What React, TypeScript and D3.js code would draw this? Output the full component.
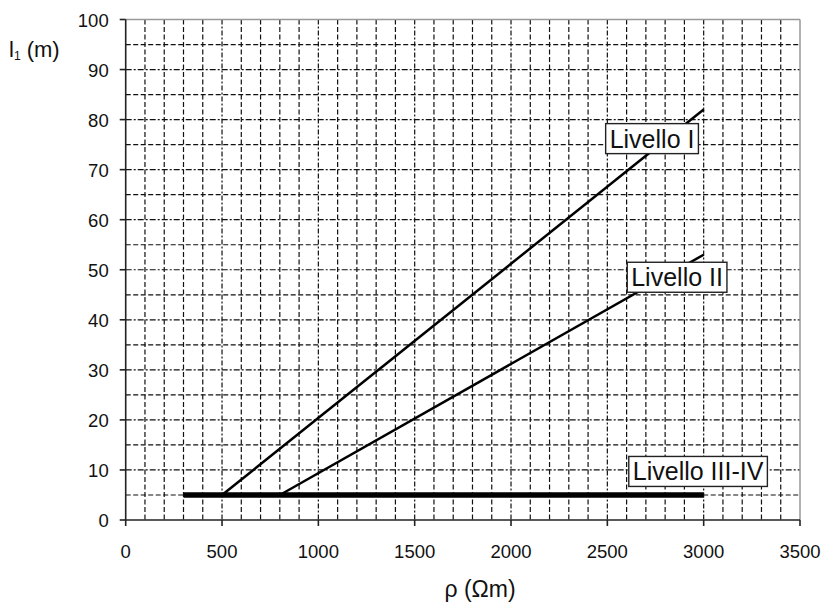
import React from "react";
import * as d3 from "d3";

const xTicks = [0, 500, 1000, 1500, 2000, 2500, 3000, 3500];
const yTicks = [0, 10, 20, 30, 40, 50, 60, 70, 80, 90, 100];
const seriesNames = ["Livello I", "Livello II", "Livello III-IV"];
const seriesRho = [
  [500, 3000],
  [800, 3000],
  [300, 3000],
];
const seriesL1 = [
  [5, 82],
  [5, 53],
  [5, 5],
];
const labelPos = [
  [2732, 76.2],
  [2862, 48.5],
  [2971, 9.7],
];

const W = 824;
const H = 606;
const M = { left: 125.7, right: 800, top: 19.5, bottom: 520 };
const font = "'Liberation Sans', Arial, sans-serif";

function measure(text: string, size: number): number {
  const c = document.createElement("canvas").getContext("2d");
  if (!c) return text.length * size * 0.5;
  c.font = `${size}px 'Liberation Sans', Arial, sans-serif`;
  return c.measureText(text).width;
}

export default function App() {
  const x = d3.scaleLinear().domain([0, 3500]).range([M.left, M.right]);
  const y = d3.scaleLinear().domain([0, 100]).range([M.bottom, M.top]);
  const line = d3
    .line<[number, number]>()
    .x((d) => x(d[0]))
    .y((d) => y(d[1]));
  const xGrid = d3.range(100, 3500, 100);
  const yGrid = d3.range(5, 100, 5);
  return (
    <svg
      width={W}
      height={H}
      style={{ position: "absolute", left: 0, top: 0, background: "#fff" }}
    >
      {/* grid */}
      {xGrid.map((v) => (
        <line
          key={"xg" + v}
          x1={x(v)}
          x2={x(v)}
          y1={M.top}
          y2={M.bottom}
          stroke="#111"
          strokeWidth={1.2}
          strokeDasharray={v % 500 === 0 ? "5,2,2,2" : "5,2.5"}
        />
      ))}
      {yGrid.map((v) => (
        <line
          key={"yg" + v}
          x1={M.left}
          x2={M.right}
          y1={y(v)}
          y2={y(v)}
          stroke="#111"
          strokeWidth={1.2}
          strokeDasharray={v % 10 === 0 ? "6,2,2,2" : "5,2.5"}
        />
      ))}
      {/* frame */}
      <line x1={M.left} x2={M.right} y1={M.top} y2={M.top} stroke="#999" strokeWidth={1.5} />
      <line x1={M.right} x2={M.right} y1={M.top} y2={M.bottom} stroke="#999" strokeWidth={1.5} />
      <line x1={M.left} x2={M.left} y1={M.top} y2={M.bottom} stroke="#222" strokeWidth={1.6} />
      <line x1={M.left} x2={M.right} y1={M.bottom} y2={M.bottom} stroke="#222" strokeWidth={1.6} />
      {/* ticks */}
      {xTicks.map((v) => (
        <g key={"xt" + v}>
          <line x1={x(v)} x2={x(v)} y1={M.bottom} y2={M.bottom + 6} stroke="#222" strokeWidth={1.6} />
          <text
            x={x(v)}
            y={558}
            textAnchor="middle"
            fontFamily={font}
            fontSize={18.5}
            fill="#111"
          >
            {v}
          </text>
        </g>
      ))}
      {yTicks.map((v) => (
        <g key={"yt" + v}>
          <line x1={M.left - 6} x2={M.left} y1={y(v)} y2={y(v)} stroke="#222" strokeWidth={1.6} />
          <text
            x={M.left - 17}
            y={y(v) + 7}
            textAnchor="end"
            fontFamily={font}
            fontSize={18.5}
            fill="#111"
          >
            {v}
          </text>
        </g>
      ))}
      {/* axis titles */}
      <text x={480} y={597} textAnchor="middle" fontFamily={font} fontSize={23} fill="#111">
        ρ (Ωm)
      </text>
      <text x={9} y={57} fontFamily={font} fontSize={22} fill="#111">
        l
        <tspan fontSize={12} dy={3}>1</tspan>
        <tspan dy={-3}> (m)</tspan>
      </text>
      {/* series */}
      {seriesNames.map((n, i) => (
        <path
          key={"s" + n}
          d={line(seriesRho[i].map((r, j) => [r, seriesL1[i][j]] as [number, number])) || ""}
          fill="none"
          stroke="#000"
          strokeWidth={i === 2 ? 5.5 : 2.5}
        />
      ))}
      {/* labels */}
      {seriesNames.map((n, i) => {
        const tx = x(labelPos[i][0]);
        const ty = y(labelPos[i][1]);
        const w = measure(n, 25) + 8;
        return (
          <g key={"l" + n}>
            <rect
              x={tx - w / 2}
              y={ty - 15}
              width={w}
              height={30}
              fill="#fff"
              stroke="#222"
              strokeWidth={1.4}
            />
            <text
              x={tx}
              y={ty + 9}
              textAnchor="middle"
              fontFamily={font}
              fontSize={25}
              fill="#111"
            >
              {n}
            </text>
          </g>
        );
      })}
    </svg>
  );
}
